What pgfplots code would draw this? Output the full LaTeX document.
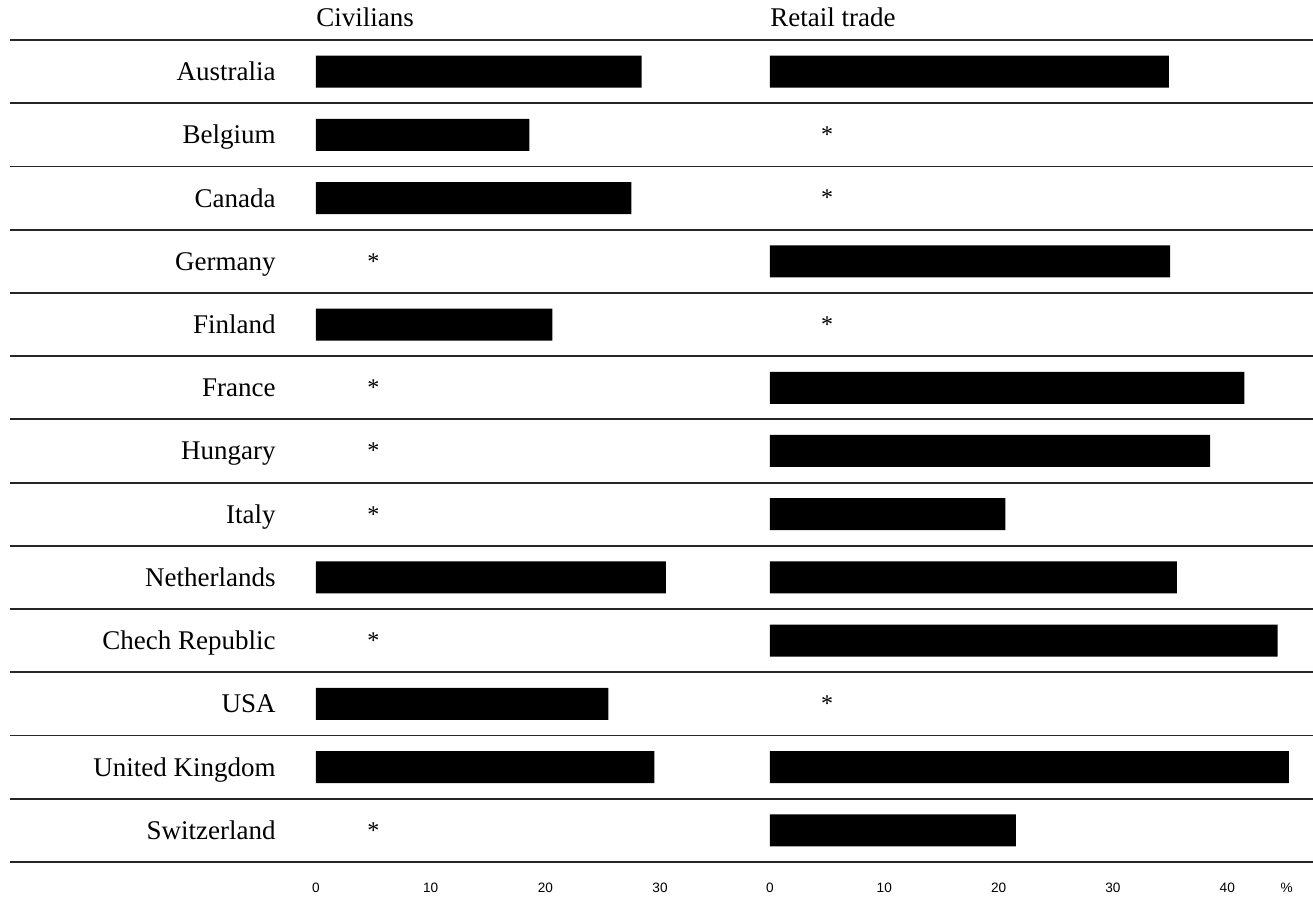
\documentclass[border=0pt]{standalone}
\usepackage{fontspec}
\setmainfont{Liberation Serif}
\newfontfamily\tickfont{Liberation Sans}
\usepackage{pgfplots}
\pgfplotsset{compat=1.18}
\begin{document}
\begin{tikzpicture}
\useasboundingbox (-5pt,-23pt) rectangle (651.5pt,431pt);
\pgfplotsset{
  panel/.style={
    scale only axis, height=411pt,
    y dir=reverse, ymin=-0.5, ymax=12.5,
    axis line style={draw=none},
    major tick length=0pt, minor tick length=0pt,
    ytick={0,...,12},
    minor ytick={-0.5,0.5,...,12.5},
    yminorgrids,
    minor grid style={black!85, line width=0.9pt},
    clip=false,
    xticklabel style={font=\tickfont\fontsize{6.8}{8}\selectfont, anchor=center, yshift=-13pt},
    /pgf/number format/assume math mode=true,
  },
  star/.style={draw=none, mark=none, nodes near coords={*},
    nodes near coords align={center},
    every node near coord/.append style={font=\fontsize{12}{14}\selectfont, inner sep=0pt}},
  bars/.style={xbar, bar width=16pt, bar shift=0pt, fill=black, draw=none},
}
\begin{axis}[panel, at={(0pt,0pt)}, anchor=south west,
  width=365pt, xmin=-26.68, xmax=36.97,
  xtick={0,10,20,30},
  yticklabels={Australia,Belgium,Canada,Germany,Finland,France,Hungary,Italy,Netherlands,Chech Republic,USA,United Kingdom,Switzerland},
  yticklabel style={anchor=base east, xshift=133pt, yshift=-4.5pt, inner sep=0pt, font=\fontsize{13.5}{16}\selectfont},
]
\addplot[bars] coordinates {(28.4,0) (18.6,1) (27.5,2) (20.6,4) (30.5,8) (25.5,10) (29.5,11)};
\addplot[star] coordinates {(5,3) (5,5) (5,6) (5,7) (5,9) (5,12)};
\node[anchor=base west, yshift=6.5pt, inner sep=0pt, font=\fontsize{13.5}{16}\selectfont] at (axis cs:0,-0.5) {Civilians};
\end{axis}
\begin{axis}[panel, at={(365pt,0pt)}, anchor=south west,
  width=286.5pt, xmin=-2.62, xmax=47.5,
  xtick={0,10,20,30,40},
  extra x ticks={45.2}, extra x tick labels={\%},
  extra x tick style={grid=none},
  yticklabel style={text opacity=0},
]
\addplot[bars] coordinates {(34.9,0) (35.0,3) (41.5,5) (38.5,6) (20.6,7) (35.6,8) (44.4,9) (45.4,11) (21.5,12)};
\addplot[star] coordinates {(5,1) (5,2) (5,4) (5,10)};
\node[anchor=base west, yshift=6.5pt, inner sep=0pt, font=\fontsize{13.5}{16}\selectfont] at (axis cs:0,-0.5) {Retail trade};
\end{axis}
\end{tikzpicture}
\end{document}
